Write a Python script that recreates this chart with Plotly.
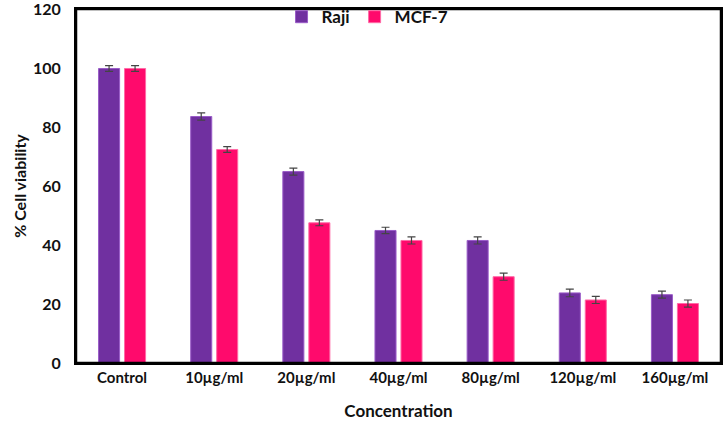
import plotly.graph_objects as go

categories = ["Control", "10µg/ml", "20µg/ml", "40µg/ml", "80µg/ml", "120µg/ml", "160µg/ml"]
raji = [100, 83.7, 65.0, 45.0, 41.6, 23.8, 23.2]
raji_err = [1.0, 1.2, 1.2, 1.1, 1.2, 1.3, 1.2]
mcf7 = [100, 72.5, 47.6, 41.6, 29.3, 21.4, 20.2]
mcf7_err = [1.0, 1.0, 1.0, 1.2, 1.2, 1.2, 1.2]
y_ticks = [0, 20, 40, 60, 80, 100, 120]

font_family = "Lato, Open Sans, DejaVu Sans, sans-serif"

fig = go.Figure()
fig.add_trace(go.Bar(
    x=categories, y=raji, name="Raji",
    marker=dict(color="#7030A0", line=dict(color="#9a5cc8", width=1)),
    error_y=dict(type="data", array=raji_err, color="#444444", thickness=1.2, width=4),
))
fig.add_trace(go.Bar(
    x=categories, y=mcf7, name="MCF-7",
    marker=dict(color="#FF0A6C", line=dict(color="#ff6aa6", width=1)),
    error_y=dict(type="data", array=mcf7_err, color="#444444", thickness=1.2, width=4),
))

fig.add_shape(
    type="rect", xref="paper", yref="paper", x0=0, x1=1, y0=0, y1=1,
    line=dict(color="black", width=2.5), fillcolor="rgba(0,0,0,0)", layer="above",
)

fig.update_layout(
    width=725, height=421,
    margin=dict(l=76, r=4, t=9, b=58, autoexpand=False),
    paper_bgcolor="white", plot_bgcolor="white",
    barmode="group", bargap=0.436, bargroupgap=0.19,
    font=dict(family=font_family, color="#111111"),
    showlegend=True,
    legend=dict(
        orientation="h", x=0.452, y=0.977, xanchor="center", yanchor="middle",
        font=dict(size=17, family=font_family, weight="bold"),
        itemwidth=30, bgcolor="rgba(0,0,0,0)",
    ),
    xaxis=dict(
        showline=True, linecolor="black", linewidth=2, mirror=True,
        ticks="", tickfont=dict(size=15, weight="bold"), automargin=False,
        title=dict(text="Concentration", font=dict(size=17, weight="bold"), standoff=20),
    ),
    yaxis=dict(
        range=[0, 120.2], tickvals=y_ticks, automargin=False,
        showline=True, linecolor="black", linewidth=2, mirror=True,
        showgrid=False, zeroline=False, ticks="outside", ticklen=10, tickcolor="white",
        tickfont=dict(size=16, weight="bold"), ticklabeloverflow="allow",
        title=dict(text="% Cell viability", font=dict(size=16, weight="bold"), standoff=2),
    ),
)

fig.write_html(
    "out.html",
    config={"displayModeBar": False},
    post_script="document.body.style.margin='0';document.body.style.overflow='hidden';",
)
